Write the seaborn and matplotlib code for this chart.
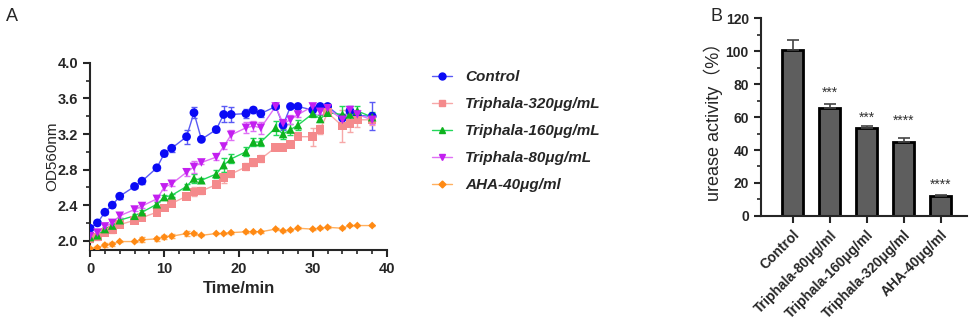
import numpy as np
import pandas as pd
import matplotlib
matplotlib.use('Agg')
import matplotlib.pyplot as plt
from matplotlib.lines import Line2D
from matplotlib.ticker import MultipleLocator
import seaborn as sns

sns.set_style('ticks')
plt.rcParams['font.family'] = ['Liberation Sans', 'DejaVu Sans', 'Noto Sans CJK SC']

# ---- 数据: 左图 OD560 随时间变化 ----
time = [0, 1, 2, 3, 4, 6, 7, 9, 10, 11, 13, 14, 15, 17, 18, 19, 21, 22, 23,
        25, 26, 27, 28, 30, 31, 32, 34, 35, 36, 38]

control = [2.14, 2.20, 2.32, 2.40, 2.50, 2.61, 2.67, 2.82, 2.98, 3.04, 3.17, 3.44, 3.14, 3.25, 3.42,
           3.42, 3.43, 3.47, 3.43, 3.51, 3.30, 3.51, 3.51, 3.47, 3.51, 3.51, 3.38, 3.46, 3.41, 3.40]
control_err = [0.02, 0.02, 0.02, 0.02, 0.03, 0.02, 0.03, 0.02, 0.03, 0.04, 0.08, 0.06, 0.02, 0.03, 0.09,
               0.08, 0.05, 0.03, 0.04, 0.02, 0.05, 0.02, 0.02, 0.04, 0.03, 0.03, 0.05, 0.05, 0.05, 0.16]

t320 = [2.02, 2.04, 2.09, 2.12, 2.18, 2.23, 2.26, 2.32, 2.37, 2.42, 2.50, 2.55, 2.56, 2.63, 2.71,
        2.75, 2.83, 2.88, 2.92, 3.05, 3.05, 3.08, 3.17, 3.17, 3.25, 3.44, 3.29, 3.32, 3.36, 3.36]
t320_err = [0.03, 0.03, 0.03, 0.03, 0.03, 0.03, 0.03, 0.03, 0.03, 0.03, 0.03, 0.05, 0.04, 0.03, 0.06,
            0.03, 0.04, 0.04, 0.04, 0.03, 0.02, 0.03, 0.03, 0.10, 0.05, 0.02, 0.18, 0.10, 0.08, 0.06]

t160 = [2.04, 2.06, 2.13, 2.17, 2.23, 2.28, 2.32, 2.41, 2.49, 2.51, 2.61, 2.70, 2.68, 2.75, 2.85,
        2.92, 3.00, 3.11, 3.11, 3.27, 3.20, 3.25, 3.30, 3.43, 3.37, 3.44, 3.42, 3.42, 3.46, 3.39]
t160_err = [0.02, 0.02, 0.02, 0.02, 0.02, 0.02, 0.02, 0.02, 0.02, 0.02, 0.03, 0.05, 0.02, 0.05, 0.08,
            0.05, 0.05, 0.05, 0.05, 0.08, 0.06, 0.06, 0.06, 0.04, 0.04, 0.02, 0.10, 0.06, 0.05, 0.06]

t80 = [2.05, 2.09, 2.16, 2.20, 2.28, 2.35, 2.39, 2.47, 2.60, 2.64, 2.77, 2.83, 2.88, 2.94, 3.06,
       3.19, 3.27, 3.29, 3.27, 3.51, 3.32, 3.36, 3.42, 3.51, 3.45, 3.49, 3.36, 3.47, 3.42, 3.36]
t80_err = [0.02, 0.02, 0.02, 0.02, 0.02, 0.02, 0.02, 0.02, 0.03, 0.03, 0.04, 0.07, 0.02, 0.03, 0.03,
           0.06, 0.06, 0.06, 0.07, 0.02, 0.05, 0.05, 0.03, 0.02, 0.02, 0.02, 0.07, 0.05, 0.05, 0.05]

aha = [1.91, 1.92, 1.95, 1.96, 1.99, 1.99, 2.01, 2.02, 2.04, 2.05, 2.08, 2.08, 2.06, 2.08, 2.08,
       2.09, 2.10, 2.10, 2.10, 2.13, 2.11, 2.12, 2.14, 2.13, 2.14, 2.15, 2.14, 2.17, 2.17, 2.17]
aha_err = [0.02, 0.02, 0.02, 0.02, 0.01, 0.01, 0.03, 0.02, 0.02, 0.02, 0.03, 0.02, 0.01, 0.01, 0.01,
           0.01, 0.01, 0.01, 0.01, 0.01, 0.01, 0.01, 0.01, 0.01, 0.01, 0.01, 0.01, 0.01, 0.01, 0.01]

series_names = ['Control', 'Triphala-320μg/mL', 'Triphala-160μg/mL', 'Triphala-80μg/mL', 'AHA-40μg/ml']
series_vals = [control, t320, t160, t80, aha]
series_errs = [control_err, t320_err, t160_err, t80_err, aha_err]
marker_colors = ['#0A0AF5', '#F48A8C', '#0FB21F', '#C31FF0', '#FF8A14']
line_colors = ['#5A5AF5', '#F7A8A8', '#22D85A', '#E070F5', '#FFB060']
marker_shapes = ['o', 's', '^', 'v', 'D']
marker_sizes = [40, 38, 38, 38, 16]

# ---- 数据: 右图 脲酶活性 ----
bar_labels = ['Control', 'Triphala-80μg/ml', 'Triphala-160μg/ml', 'Triphala-320μg/ml', 'AHA-40μg/ml']
bar_values = [100.8, 65.3, 53.5, 45.0, 12.2]
bar_errs = [6.3, 2.6, 1.4, 2.2, 0.6]
bar_stars = ['', '***', '***', '****', '****']
star_y = [0, 74.5, 59.5, 57.5, 19.0]

# 长表格
rows = []
for name, vals, errs in zip(series_names, series_vals, series_errs):
    for t, v, e in zip(time, vals, errs):
        rows.append({'time': t, 'od': v, 'err': e, 'group': name})
df = pd.DataFrame(rows)

fig = plt.figure(figsize=(9.69, 3.27), dpi=100)
ax1 = fig.add_axes([0.0929, 0.2355, 0.3065, 0.572])
ax2 = fig.add_axes([0.785, 0.340, 0.2126, 0.6037])

# ---- 左图 ----
for i, name in enumerate(series_names):
    sub = df[df['group'] == name]
    ax1.errorbar(sub['time'], sub['od'], yerr=sub['err'], fmt='none',
                 ecolor=line_colors[i], elinewidth=1, capsize=2.5, capthick=1, zorder=2)
    sns.lineplot(data=sub, x='time', y='od', color=line_colors[i], linewidth=1,
                 ax=ax1, legend=False, zorder=3)
    sns.scatterplot(data=sub, x='time', y='od', color=marker_colors[i], marker=marker_shapes[i],
                    s=marker_sizes[i], edgecolor='none', ax=ax1, legend=False, zorder=4)

ax1.set_xlim(0, 40)
ax1.set_ylim(1.895, 4.0)
ax1.xaxis.set_major_locator(MultipleLocator(10))
ax1.xaxis.set_minor_locator(MultipleLocator(2))
ax1.yaxis.set_minor_locator(MultipleLocator(0.2))
ax1.set_yticks([2.0, 2.4, 2.8, 3.2, 3.6, 4.0])
ax1.set_yticklabels(['2.0', '2.4', '2.8', '3.2', '3.6', '4.0'])
ax1.tick_params(which='major', length=5, width=1.5, labelsize=10.5)
ax1.tick_params(which='minor', length=3, width=1.2)
for lab in ax1.get_xticklabels() + ax1.get_yticklabels():
    lab.set_fontweight('bold')
ax1.set_xlabel('Time/min', fontsize=12, fontweight='bold')
ax1.set_ylabel('OD560nm', fontsize=11, labelpad=-1)
for sp in ['left', 'bottom']:
    ax1.spines[sp].set_linewidth(1.5)
sns.despine(ax=ax1)

handles = [Line2D([0], [0], color=line_colors[i], marker=marker_shapes[i], markerfacecolor=marker_colors[i],
                  markeredgecolor=marker_colors[i], markersize=5 if i < 4 else 3.5, linewidth=1)
           for i in range(5)]
leg = fig.legend(handles, series_names, loc='upper left', bbox_to_anchor=(0.432, 0.827),
                 frameon=False, handlelength=1.3, handletextpad=0.85, labelspacing=0.85,
                 prop={'size': 11, 'weight': 'bold', 'style': 'italic'})

# ---- 右图 ----
bar_df = pd.DataFrame({'group': bar_labels, 'value': bar_values})
sns.barplot(data=bar_df, x='group', y='value', color='#5E5E5E', width=0.56,
            edgecolor='black', linewidth=2, ax=ax2, errorbar=None, saturation=1)
xpos = np.arange(len(bar_labels))
ax2.errorbar(xpos, bar_values, yerr=[np.zeros(len(bar_errs)), bar_errs], fmt='none',
             ecolor='#444444', elinewidth=1.2, capsize=4, capthick=1.2, zorder=1)
for x, s, y in zip(xpos, bar_stars, star_y):
    if s:
        ax2.text(x, y, s, ha='center', va='center', fontsize=10, color='#333333')
ax2.set_xlim(-0.865, 4.70)
ax2.set_ylim(0, 120)
ax2.yaxis.set_major_locator(MultipleLocator(20))
ax2.yaxis.set_minor_locator(MultipleLocator(10))
ax2.tick_params(which='major', length=5, width=1.5, labelsize=10)
ax2.tick_params(which='minor', length=3, width=1.2)
ax2.set_xticks(xpos)
ax2.set_xticklabels(bar_labels, rotation=45, ha='right', rotation_mode='anchor', fontsize=10)
for lab in ax2.get_xticklabels() + ax2.get_yticklabels():
    lab.set_fontweight('bold')
ax2.set_xlabel('')
ax2.set_ylabel('urease activity（%）', fontsize=13, labelpad=2,
               family=['Liberation Sans', 'Noto Sans CJK SC'])
for sp in ['left', 'bottom']:
    ax2.spines[sp].set_linewidth(1.5)
sns.despine(ax=ax2)

fig.text(0.006, 0.935, 'A', fontsize=13)
fig.text(0.733, 0.935, 'B', fontsize=13)

fig.savefig('out.png', dpi=100)
